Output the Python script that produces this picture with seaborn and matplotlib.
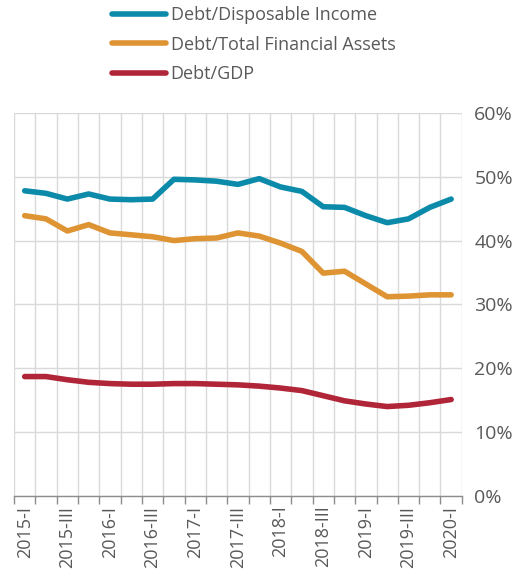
import numpy as np
import pandas as pd
import matplotlib
matplotlib.use("Agg")
import matplotlib.pyplot as plt
import seaborn as sns

# data (percent)
quarters = [f"{y}-{q}" for y in range(2015, 2020) for q in ["I", "II", "III", "IV"]] + ["2020-I"]
debt_income = [47.8, 47.4, 46.5, 47.3, 46.5, 46.4, 46.5, 49.6, 49.5, 49.3, 48.8,
               49.7, 48.4, 47.7, 45.3, 45.2, 43.9, 42.8, 43.4, 45.2, 46.5]
debt_assets = [43.9, 43.4, 41.5, 42.5, 41.2, 40.9, 40.6, 40.0, 40.3, 40.4, 41.2,
               40.7, 39.6, 38.3, 34.9, 35.2, 33.2, 31.2, 31.3, 31.5, 31.5]
debt_gdp = [18.7, 18.7, 18.2, 17.8, 17.6, 17.5, 17.5, 17.6, 17.6, 17.5, 17.4,
            17.2, 16.9, 16.5, 15.7, 14.9, 14.4, 14.0, 14.2, 14.6, 15.1]
series = ["Debt/Disposable Income", "Debt/Total Financial Assets", "Debt/GDP"]
colors = ["#0B8BA9", "#DF9433", "#B02537"]

df = pd.DataFrame({
    "idx": list(range(len(quarters))) * 3,
    "value": debt_income + debt_assets + debt_gdp,
    "series": np.repeat(series, len(quarters)),
})

sns.set_theme(style="white")
plt.rcParams["font.family"] = ["Open Sans", "DejaVu Sans"]
text_col = "#595959"
grid_col = "#D9D9D9"

fig = plt.figure(figsize=(5.29, 5.76), dpi=100)
ax = fig.add_axes([0.0265, 0.139, 0.8465, 0.665])

sns.lineplot(data=df, x="idx", y="value", hue="series", hue_order=series,
             palette=colors, linewidth=4, ax=ax, legend=False,
             solid_capstyle="round", solid_joinstyle="round")

n = len(quarters)
ax.set_xlim(-0.5, n - 0.5)
ax.set_ylim(0, 60)

# category boundaries as grid / tick marks
ax.set_xticks(np.arange(-0.5, n, 1.0), minor=True)
ax.set_xticks(np.arange(0, n, 2))
ax.set_xticklabels(quarters[::2], rotation=90, color=text_col, fontsize=13)
ax.tick_params(axis="x", which="major", length=0, pad=7)
ax.tick_params(axis="x", which="minor", length=6, color="#8C8C8C", width=1, direction="out", bottom=True)
ax.grid(axis="x", which="minor", color=grid_col, linewidth=1)

ax.yaxis.tick_right()
ax.set_yticks(range(0, 61, 10))
ax.set_yticklabels([f"{v}%" for v in range(0, 61, 10)], color=text_col, fontsize=14)
ax.tick_params(axis="y", length=0, pad=9)
ax.grid(axis="y", which="major", color=grid_col, linewidth=1)
ax.set_axisbelow(True)

for s in ["top", "right", "left"]:
    ax.spines[s].set_visible(False)
ax.spines["bottom"].set_color("#8C8C8C")
ax.spines["bottom"].set_linewidth(1)
ax.set_xlabel("")
ax.set_ylabel("")

handles = [plt.Line2D([0], [0], color=c, linewidth=4, solid_capstyle="round") for c in colors]
leg = fig.legend(handles, series, loc="upper left", bbox_to_anchor=(0.181, 1.017),
                 frameon=False, fontsize=13, handlelength=3.0, handletextpad=0.25,
                 labelspacing=0.62, labelcolor=text_col)

fig.savefig("out.png", dpi=100)
